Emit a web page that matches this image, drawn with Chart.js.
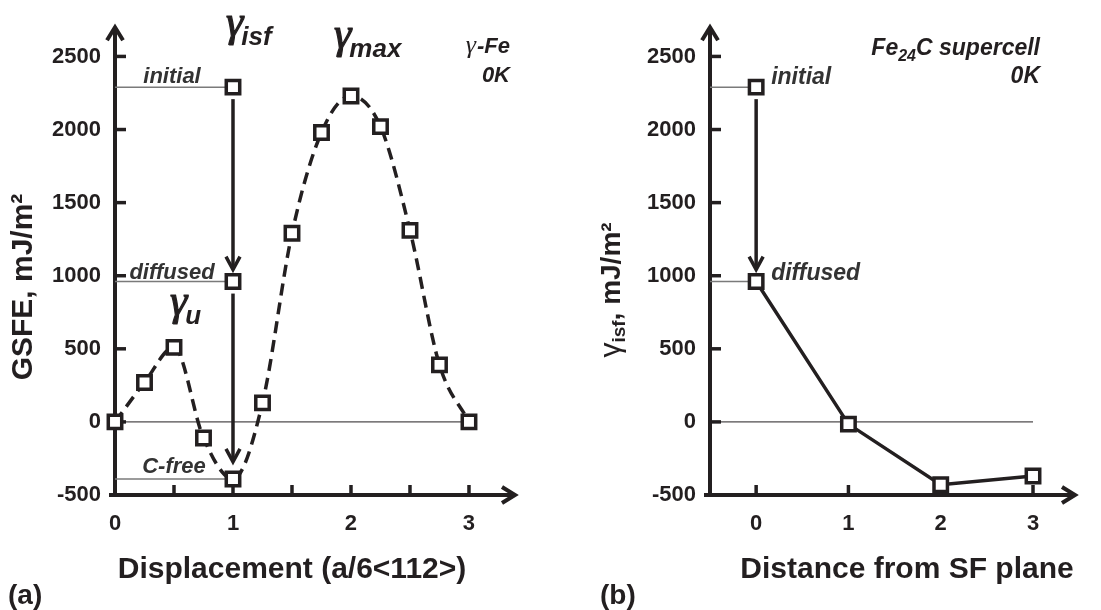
<!DOCTYPE html>
<html>
<head>
<meta charset="utf-8">
<script src="https://cdn.jsdelivr.net/npm/chart.js@4.4.1/dist/chart.umd.min.js"></script>
<style>
  body { margin: 0; background: #fff; width: 1101px; height: 610px; position: relative; overflow: hidden; }
  #a { position: absolute; left: 0; top: 0; }
  #b { position: absolute; left: 555px; top: 0; }
</style>
</head>
<body>
<canvas id="a" width="555" height="610"></canvas>
<canvas id="b" width="546" height="610"></canvas>
<script>
// --- DATA --- //
// (a) GSFE curve along the displacement path
const dispX = [0, 0.25, 0.5, 0.75, 1, 1.25, 1.5, 1.75, 2, 2.25, 2.5, 2.75, 3];
const gsfe = [0, 270, 510, -110, -390, 130, 1290, 1980, 2230, 2020, 1310, 390, 0];
// (a) intrinsic SF energy at x = 1: initial, diffused (C-free is the curve point)
const isfX = 1;
const isfVals = [2290, 960];
const refLevelsA = [2290, 960, -390];
// (b) gamma_isf vs distance of C from SF plane
const distX = [0, 1, 2, 3];
const gammaIsf = [960, -15, -430, -370];
const initialB = 2290;
const refLevelsB = [2290, 960];
// ticks
const yTicks = [-500, 0, 500, 1000, 1500, 2000, 2500];
const xTicksA = [0, 0.5, 1, 1.5, 2, 2.5, 3];
const xTicksB = [0, 1, 2, 3];

const FONT = "'Liberation Sans', Arial, sans-serif";
const SERIF = "'Liberation Serif', 'Times New Roman', serif";
const INK = "#231f20";
const GREY = "#7a7a7a";

// --- HELPERS --- //
function pts(xs, ys) {
  return xs.map((x, i) => ({ x: x, y: ys[i] }));
}

function hline(x0, x1, y, color, width) {
  return {
    data: [{ x: x0, y: y }, { x: x1, y: y }],
    borderColor: color,
    borderWidth: width,
    pointRadius: 0,
    clip: false,
  };
}

function chevron(ctx, x, y, dir) {
  ctx.beginPath();
  if (dir === "up") {
    ctx.moveTo(x - 8, y + 13);
    ctx.lineTo(x, y);
    ctx.lineTo(x + 8, y + 13);
  } else if (dir === "down") {
    ctx.moveTo(x - 7, y - 13);
    ctx.lineTo(x, y);
    ctx.lineTo(x + 7, y - 13);
  } else {
    ctx.moveTo(x - 13, y - 8);
    ctx.lineTo(x, y);
    ctx.lineTo(x - 13, y + 8);
  }
  ctx.stroke();
}

function text(ctx, s, x, y, font, align, color) {
  ctx.font = font;
  ctx.textAlign = align || "left";
  ctx.fillStyle = color || INK;
  ctx.textBaseline = "alphabetic";
  ctx.fillText(s, x, y);
}

// big italic gamma with a bold italic subscript
function gammaLabel(ctx, x, y, sub, size) {
  ctx.font = "italic " + size + "px " + SERIF;
  ctx.textAlign = "left";
  ctx.fillStyle = INK;
  ctx.strokeStyle = INK;
  ctx.lineWidth = 1.2;
  ctx.fillText("\u03b3", x, y);
  ctx.strokeText("\u03b3", x, y);
  const w = ctx.measureText("\u03b3").width;
  ctx.font = "italic bold " + Math.round(size * 0.6) + "px " + FONT;
  ctx.fillText(sub, x + w - 2, y + Math.round(size * 0.2));
}

// rotated axis title made of several pieces
function rotTitle(ctx, parts, cx, cy) {
  ctx.save();
  ctx.translate(cx, cy);
  ctx.rotate(-Math.PI / 2);
  ctx.textBaseline = "alphabetic";
  ctx.textAlign = "left";
  ctx.fillStyle = INK;
  let total = 0;
  parts.forEach((p) => {
    ctx.font = p.font;
    p.w = ctx.measureText(p.s).width;
    total += p.w;
  });
  let x = -total / 2;
  parts.forEach((p) => {
    ctx.font = p.font;
    ctx.fillText(p.s, x, 10 + (p.dy || 0));
    x += p.w;
  });
  ctx.restore();
}

function vArrow(ctx, px, yFrom, yTo) {
  ctx.save();
  ctx.strokeStyle = INK;
  ctx.lineWidth = 3.5;
  ctx.beginPath();
  ctx.moveTo(px, yFrom);
  ctx.lineTo(px, yTo - 2);
  ctx.stroke();
  chevron(ctx, px, yTo, "down");
  ctx.restore();
}

// axis lines with arrow heads and inward tick marks
const axisArrows = {
  id: "axisArrows",
  beforeDatasetsDraw(chart) {
    const { ctx, chartArea: a, scales } = chart;
    const x = scales.x;
    const y = scales.y;
    ctx.save();
    ctx.strokeStyle = INK;
    ctx.lineWidth = 4;
    ctx.lineJoin = "miter";
    ctx.beginPath();
    ctx.moveTo(a.left, a.bottom);
    ctx.lineTo(a.left, a.top + 2);
    ctx.stroke();
    chevron(ctx, a.left, a.top, "up");
    ctx.beginPath();
    ctx.moveTo(a.left - 6, a.bottom);
    ctx.lineTo(a.right - 2, a.bottom);
    ctx.stroke();
    chevron(ctx, a.right, a.bottom, "right");
    ctx.lineWidth = 3.5;
    y.ticks.forEach((t) => {
      if (t.value <= y.min) return;
      const py = y.getPixelForValue(t.value);
      ctx.beginPath();
      ctx.moveTo(a.left, py);
      ctx.lineTo(a.left + 11, py);
      ctx.stroke();
    });
    x.ticks.forEach((t) => {
      const px = x.getPixelForValue(t.value);
      if (px <= a.left + 2) return;
      ctx.beginPath();
      ctx.moveTo(px, a.bottom);
      ctx.lineTo(px, a.bottom - 10);
      ctx.stroke();
    });
    ctx.restore();
  },
};

function scaleOpts(xMin, xMax, xTicks, yWidth) {
  const tickFont = { family: FONT, size: 22, weight: "bold" };
  return {
    x: {
      type: "linear",
      min: xMin,
      max: xMax,
      grid: { display: false, drawTicks: false },
      border: { display: false },
      afterBuildTicks: (s) => { s.ticks = xTicks.map((v) => ({ value: v })); },
      afterFit: (s) => { s.height = 115; },
      ticks: {
        font: tickFont,
        color: INK,
        padding: 16,
        autoSkip: false,
        maxRotation: 0,
        callback: (v) => (Number.isInteger(v) ? String(v) : ""),
      },
    },
    y: {
      min: -500,
      max: 2700,
      grid: { display: false, drawTicks: false },
      border: { display: false },
      afterBuildTicks: (s) => { s.ticks = yTicks.map((v) => ({ value: v })); },
      afterFit: (s) => { s.width = yWidth; },
      ticks: { font: tickFont, color: INK, padding: 14, callback: (v) => String(v) },
    },
  };
}

const markerStyle = {
  pointStyle: "rect",
  pointRadius: 9.5,
  pointHoverRadius: 9.5,
  pointBorderWidth: 3.5,
  pointBackgroundColor: "#fff",
  pointBorderColor: INK,
  clip: false,
};

// --- (a) GSFE --- //
new Chart(document.getElementById("a"), {
  type: "line",
  data: {
    datasets: [
      Object.assign({
        data: pts(dispX, gsfe),
        borderColor: INK,
        borderWidth: 3.5,
        borderDash: [12, 7],
        cubicInterpolationMode: "monotone",
      }, markerStyle),
      Object.assign({
        data: isfVals.map((v) => ({ x: isfX, y: v })),
        showLine: false,
      }, markerStyle),
      ...refLevelsA.map((v) => hline(0, isfX, v, GREY, 1.5)),
      hline(0, 3, 0, INK, 1),
    ],
  },
  options: {
    responsive: false,
    animation: false,
    events: [],
    layout: { padding: { top: 13, right: 40, left: 0, bottom: 0 } },
    plugins: { legend: { display: false }, tooltip: { enabled: false } },
    scales: scaleOpts(0, 3.39, xTicksA, 115),
  },
  plugins: [
    axisArrows,
    {
      id: "notesA",
      afterDraw(chart) {
        const { ctx, scales: { x, y } } = chart;
        const px = x.getPixelForValue(isfX);
        vArrow(ctx, px, y.getPixelForValue(isfVals[0]) + 12, y.getPixelForValue(isfVals[1]) - 12);
        vArrow(ctx, px, y.getPixelForValue(isfVals[1]) + 12, y.getPixelForValue(-390) - 17);

        const note = "italic bold 22px " + FONT;
        text(ctx, "initial", 172, y.getPixelForValue(2290) - 4, note, "center", "#333");
        text(ctx, "diffused", 172, y.getPixelForValue(960) - 3, note, "center", "#333");
        text(ctx, "C-free", 174, y.getPixelForValue(-390) - 6, note, "center", "#333");

        gammaLabel(ctx, 226, 36, "isf", 44);
        gammaLabel(ctx, 334, 48, "max", 44);
        gammaLabel(ctx, 170, 315, "u", 44);

        ctx.font = note;
        const wFe = ctx.measureText("-Fe").width;
        text(ctx, "-Fe", 510, 53, note, "right");
        text(ctx, "\u03b3", 510 - wFe - 1, 53, "italic 26px " + SERIF, "right");
        text(ctx, "0K", 510, 82, note, "right");

        rotTitle(ctx, [{ s: "GSFE, mJ/m\u00b2", font: "bold 30px " + FONT }], 22, 287);
        text(ctx, "Displacement (a/6<112>)", 292, 578, "bold 30px " + FONT, "center");
        text(ctx, "(a)", 8, 604, "bold 28px " + FONT, "left");
      },
    },
  ],
});

// --- (b) gamma_isf vs distance --- //
new Chart(document.getElementById("b"), {
  type: "line",
  data: {
    datasets: [
      Object.assign({
        data: pts(distX, gammaIsf),
        borderColor: INK,
        borderWidth: 3.5,
        tension: 0,
      }, markerStyle),
      Object.assign({
        data: [{ x: distX[0], y: initialB }],
        showLine: false,
      }, markerStyle),
      ...refLevelsB.map((v) => hline(-0.5, distX[0], v, GREY, 1.5)),
      hline(-0.5, 3, 0, INK, 1),
    ],
  },
  options: {
    responsive: false,
    animation: false,
    events: [],
    layout: { padding: { top: 13, right: 26, left: 0, bottom: 0 } },
    plugins: { legend: { display: false }, tooltip: { enabled: false } },
    scales: scaleOpts(-0.5, 3.455, xTicksB, 155),
  },
  plugins: [
    axisArrows,
    {
      id: "notesB",
      afterDraw(chart) {
        const { ctx, scales: { x, y } } = chart;
        const px = x.getPixelForValue(distX[0]);
        vArrow(ctx, px, y.getPixelForValue(initialB) + 12, y.getPixelForValue(gammaIsf[0]) - 12);

        const note = "italic bold 23px " + FONT;
        text(ctx, "initial", px + 15, y.getPixelForValue(initialB) - 3, note, "left", "#333");
        text(ctx, "diffused", px + 15, y.getPixelForValue(gammaIsf[0]) - 2, note, "left", "#333");

        // Fe24C supercell, right aligned at 485
        const sub = "italic bold 16px " + FONT;
        ctx.font = note;
        const w1 = ctx.measureText("Fe").width;
        const w3 = ctx.measureText("C supercell").width;
        ctx.font = sub;
        const w2 = ctx.measureText("24").width;
        const sx = 485 - (w1 + w2 + w3);
        text(ctx, "Fe", sx, 55, note);
        text(ctx, "24", sx + w1, 61, sub);
        text(ctx, "C supercell", sx + w1 + w2, 55, note);
        text(ctx, "0K", 485, 83, note, "right");

        rotTitle(ctx, [
          { s: "\u03b3", font: "30px " + FONT },
          { s: "isf", font: "bold 19px " + FONT, dy: 5 },
          { s: ", mJ/m\u00b2", font: "bold 28px " + FONT },
        ], 55, 290);
        text(ctx, "Distance from SF plane", 352, 578, "bold 30px " + FONT, "center");
        text(ctx, "(b)", 45, 604, "bold 28px " + FONT, "left");
      },
    },
  ],
});
</script>
</body>
</html>
